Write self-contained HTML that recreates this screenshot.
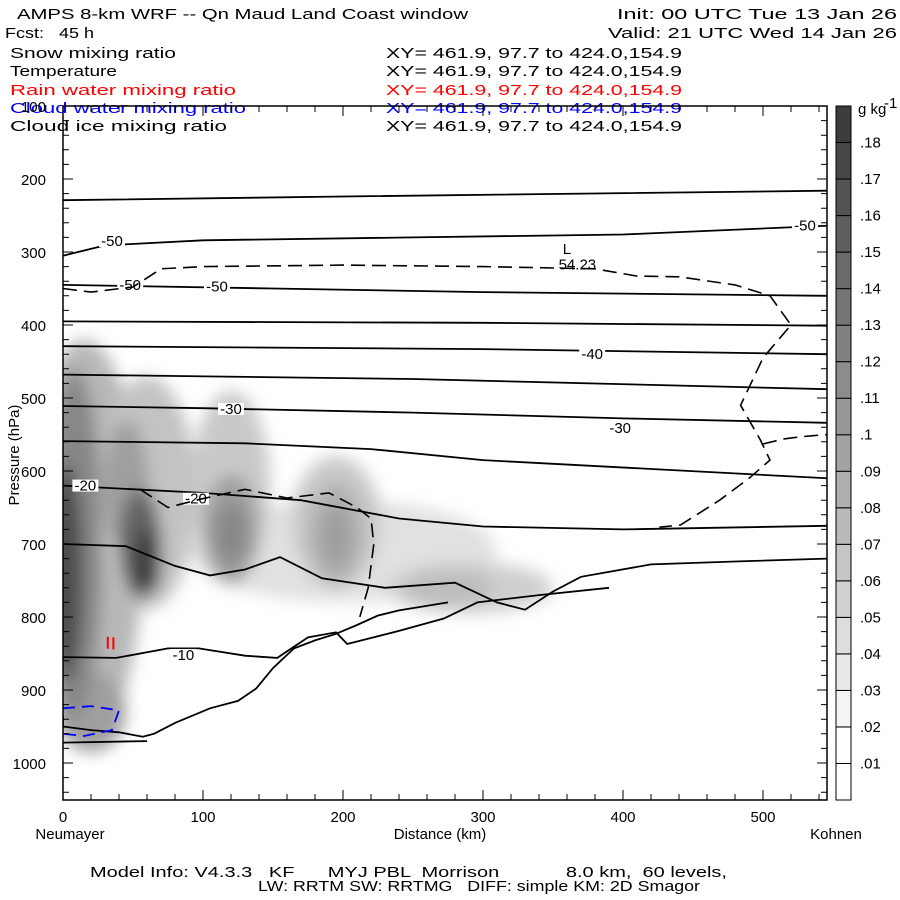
<!DOCTYPE html>
<html><head><meta charset="utf-8"><style>
html,body{margin:0;padding:0;background:#fff}
svg{display:block}
text{font-family:"Liberation Sans",sans-serif;font-size:15px;white-space:pre}
</style></head><body>
<svg id="chart" width="900" height="900" viewBox="0 0 900 900" xmlns="http://www.w3.org/2000/svg" xml:space="preserve">
<defs>
<filter id="blur" x="-50%" y="-50%" width="200%" height="200%"><feGaussianBlur stdDeviation="8"/></filter>
<clipPath id="plotclip"><rect x="63" y="106" width="764" height="694"/></clipPath>
</defs>
<g>
<text x="17" y="19" textLength="451" lengthAdjust="spacingAndGlyphs">AMPS 8-km WRF -- Qn Maud Land Coast window</text>
<text x="617" y="19" textLength="280" lengthAdjust="spacingAndGlyphs">Init: 00 UTC Tue 13 Jan 26</text>
<text x="5" y="38" textLength="89" lengthAdjust="spacingAndGlyphs">Fcst:   45 h</text>
<text x="608" y="38" textLength="289" lengthAdjust="spacingAndGlyphs">Valid: 21 UTC Wed 14 Jan 26</text>
<text x="10" y="58" textLength="166" lengthAdjust="spacingAndGlyphs">Snow mixing ratio</text>
<text x="386" y="58" textLength="296" lengthAdjust="spacingAndGlyphs">XY= 461.9, 97.7 to 424.0,154.9</text>
<text x="10" y="76" textLength="107" lengthAdjust="spacingAndGlyphs">Temperature</text>
<text x="386" y="76" textLength="296" lengthAdjust="spacingAndGlyphs">XY= 461.9, 97.7 to 424.0,154.9</text>
<text x="10" y="95" fill="#ff0000" textLength="226" lengthAdjust="spacingAndGlyphs">Rain water mixing ratio</text>
<text x="386" y="95" fill="#ff0000" textLength="296" lengthAdjust="spacingAndGlyphs">XY= 461.9, 97.7 to 424.0,154.9</text>
<text x="10" y="113" fill="#0000ff" textLength="236" lengthAdjust="spacingAndGlyphs">Cloud water mixing ratio</text>
<text x="386" y="113" fill="#0000ff" textLength="296" lengthAdjust="spacingAndGlyphs">XY= 461.9, 97.7 to 424.0,154.9</text>
<text x="10" y="131" textLength="217" lengthAdjust="spacingAndGlyphs">Cloud ice mixing ratio</text>
<text x="386" y="131" textLength="296" lengthAdjust="spacingAndGlyphs">XY= 461.9, 97.7 to 424.0,154.9</text>
</g>
<g id="shade" clip-path="url(#plotclip)"><g id="shadeInner" filter="url(#blur)"></g></g>
<g id="contours" clip-path="url(#plotclip)"></g>
<g id="axes"></g>
<g id="cbar"></g>
<text x="90" y="877" font-size="13" textLength="637" lengthAdjust="spacingAndGlyphs">Model Info: V4.3.3   KF      MYJ PBL  Morrison            8.0 km,  60 levels,</text>
<text x="258" y="891" font-size="13" textLength="442" lengthAdjust="spacingAndGlyphs">LW: RRTM SW: RRTMG   DIFF: simple KM: 2D Smagor</text>
</svg>
<script>
// ---- data ----
const pressureTicks = [100,200,300,400,500,600,700,800,900,1000];
const distanceTicks = [0,100,200,300,400,500];
const cbarLevels = [".01",".02",".03",".04",".05",".06",".07",".08",".09",".1",".11",".12",".13",".14",".15",".16",".17",".18"];
// snow blobs: [km, hPa, radius km, radius hPa, g/kg]  (drawn light to dark)
const snowBlobs = [
 [200,710,110,70,0.025],[290,760,60,35,0.04],[15,700,42,280,0.06],[60,630,35,160,0.05],
 [120,620,28,130,0.045],[195,670,32,90,0.045],[20,930,25,55,0.08],
 [8,700,20,240,0.1],[45,620,16,90,0.08],[120,680,20,75,0.08],[195,685,20,70,0.065],[275,760,32,25,0.055],
 [2,740,12,150,0.15],[55,700,15,75,0.13],[60,725,10,45,0.16],[120,685,11,42,0.1],[195,690,11,42,0.08]
];
// isotherms: arrays of [km,hPa]
const isotherms = [
 [[0,229],[200,224],[546,216]],
 [[0,305],[30,291],[100,284],[250,280],[400,276],[546,264]],
 [[0,345],[150,350],[300,355],[546,360]],
 [[0,395],[300,397],[546,401]],
 [[0,429],[300,433],[546,440]],
 [[0,468],[250,474],[546,488]],
 [[0,511],[100,514],[250,520],[400,528],[546,534]],
 [[0,559],[130,562],[220,570],[300,585],[546,610]],
 [[0,620],[100,630],[170,640],[240,665],[300,676],[400,680],[546,675]],
 [[0,700],[45,703],[80,730],[105,743],[130,735],[155,718],[185,747],[230,760],[280,753],[310,780],[330,790],[350,765],[370,745],[420,728],[480,724],[546,720]],
 [[0,855],[38,856],[75,843],[97,843],[130,853],[153,856],[175,828],[195,821],[203,837],[240,819],[272,802],[296,780],[340,770],[390,760]],
 [[0,950],[20,955],[40,958],[57,964],[65,960],[80,945],[105,925],[125,915],[138,898],[150,870],[165,843],[180,832],[195,823],[210,811],[225,798],[240,791],[275,780]],
 [[0,972],[60,970]]
];
const isothermLabels = [["-50",35,285],["-50",48,345],["-50",110,347],["-50",530,264],["-40",378,440],["-30",120,515],["-30",398,541],["-20",16,620],["-20",95,638],["-10",86,852]];
const dashedIce = [[0,350],[20,355],[50,348],[70,323],[100,320],[200,318],[300,320],[380,323],[410,333],[440,334],[480,345],[505,360],[520,400],[500,445],[484,510],[498,557],[505,585],[490,610],[469,640],[441,674],[426,677]];
const dashedIce2 = [[500,563],[515,556],[527,553],[546,550]];
const dashedIce3 = [[55,625],[75,650],[95,640],[130,625],[160,637],[190,630],[210,650],[220,665],[222,700],[218,760],[212,800]];
const cloudWater = [[0,925],[20,922],[40,928],[35,955],[15,963],[0,960]];
// ---- axis functions ----
const X0=63, X1=827, Y0=106, Y1=800;
const xs = km => X0 + km*1.4;
const ys = p => Y0 + (p-100)*0.73;
const NS="http://www.w3.org/2000/svg";
function mk(tag, attrs, parent){const e=document.createElementNS(NS,tag);for(const k in attrs)e.setAttribute(k,attrs[k]);parent.appendChild(e);return e;}
function pathD(pts){return pts.map((p,i)=>(i?"L":"M")+xs(p[0]).toFixed(1)+","+ys(p[1]).toFixed(1)).join(" ");}
const shade=document.getElementById('shadeInner'), cont=document.getElementById('contours'), axes=document.getElementById('axes'), cbar=document.getElementById('cbar');
function grayFor(v){const g=Math.max(40,Math.round(255-v/0.01*12));return `rgb(${g},${g},${g})`;}
snowBlobs.forEach(b=>{
 const e=mk('ellipse',{cx:xs(b[0]),cy:ys(b[1]),rx:b[2]*1.4,ry:b[3]*0.73,fill:grayFor(b[4])},shade);
 
 
});
isotherms.forEach(l=>{
 const e=mk('path',{d:pathD(l),fill:'none',stroke:'#000','stroke-width':1.8},cont);
 
 
});
isothermLabels.forEach(l=>{
 const r=mk('rect',{x:xs(l[1])-13,y:ys(l[2])-6,width:26,height:12,fill:'#fff'},cont);
 const t=mk('text',{x:xs(l[1]),y:ys(l[2])+5,'text-anchor':'middle','font-size':13},cont);
 t.textContent=l[0];
 
 
});
[dashedIce,dashedIce2,dashedIce3].forEach(l=>{
 const e=mk('path',{d:pathD(l),fill:'none',stroke:'#000','stroke-width':1.6,'stroke-dasharray':'14,7'},cont);
 
 
});
{const e=mk('path',{d:pathD(cloudWater)+"Z",fill:'none',stroke:'#0000ff','stroke-width':1.8,'stroke-dasharray':'12,7'},cont);
 
 }
{const t=mk('text',{x:xs(357),y:ys(303),'font-size':13},cont);t.textContent="L";
 
 const t2=mk('text',{x:xs(354),y:ys(324),'font-size':13},cont);t2.textContent="54.23";
 }
{const e=mk('path',{d:`M${xs(32)},${ys(827)} v12 M${xs(36)},${ys(828)} v12`,stroke:'#ff0000','stroke-width':2},cont);
 }
// frame and ticks
{const f=mk('rect',{x:X0,y:Y0,width:X1-X0,height:Y1-Y0,fill:'none',stroke:'#000','stroke-width':1.5},axes);
 }
let td="";
for(let p=100;p<=1050;p+=20){const y=ys(p);const L=(p%100===0)?10:6;td+=`M${X0},${y}h${L}M${X1},${y}h${-L}`;}
for(let k=0;k<=546;k+=20){const x=xs(k);const L=(k%100===0)?10:6;td+=`M${x},${Y1}v${-L}M${x},${Y0}v${L}`;}
{const e=mk('path',{d:td,stroke:'#000','stroke-width':1},axes);}
pressureTicks.forEach(p=>{const t=mk('text',{x:46,y:ys(p)+6,'text-anchor':'end','font-size':14},axes);t.textContent=p;
 });
distanceTicks.forEach(k=>{const t=mk('text',{x:xs(k),y:822,'text-anchor':'middle','font-size':14},axes);t.textContent=k;
 });
[["Neumayer",70,"station-left"],["Distance (km)",440,"x-axis-title"],["Kohnen",836,"station-right"]].forEach(a=>{
 const t=mk('text',{x:a[1],y:839,'text-anchor':'middle','font-size':14},axes);t.textContent=a[0];
 });
{const t=mk('text',{x:0,y:0,'text-anchor':'middle','font-size':14,transform:'translate(19,455) rotate(-90)'},axes);t.textContent="Pressure (hPa)";
 }
// colorbar
const nBox=cbarLevels.length+1, bh=(Y1-Y0)/nBox;
for(let i=0;i<nBox;i++){
 const y=Y1-(i+1)*bh;
 const g=i<=1?255:Math.round(255-(i-1)*11.5);
 const r=mk('rect',{x:836,y:y,width:15,height:bh,fill:`rgb(${g},${g},${g})`,stroke:'#000','stroke-width':1},cbar);
 
 
}
cbarLevels.forEach((l,i)=>{const t=mk('text',{x:860,y:Y1-(i+1)*bh+5,'font-size':12},cbar);t.textContent=l;
 });
{const t=mk('text',{x:858,y:114,'font-size':12},cbar);t.textContent="g kg";
 const s=mk('text',{x:884,y:108,'font-size':9},cbar);s.textContent="-1";
 
 }
</script>
</body></html>
